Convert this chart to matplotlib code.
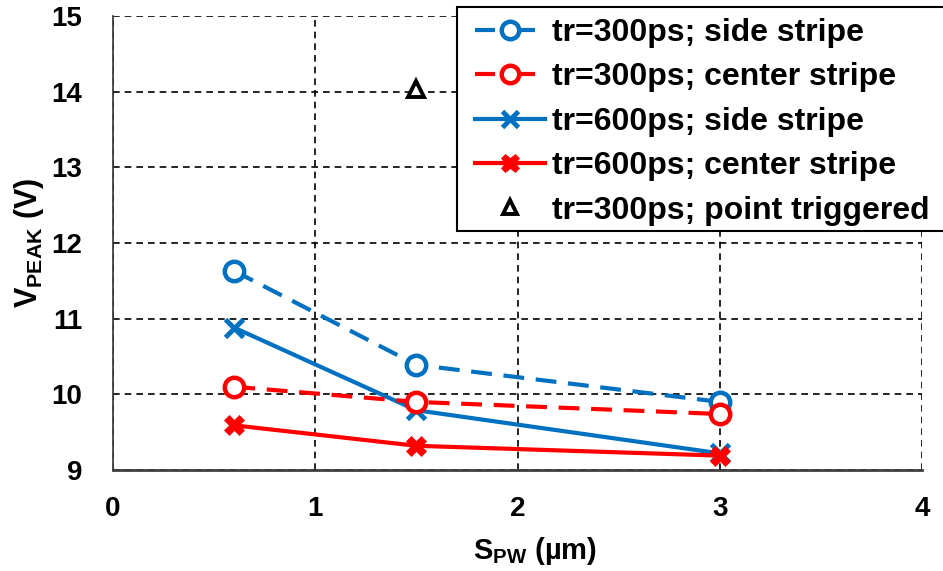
import matplotlib
matplotlib.use("Agg")
import matplotlib.pyplot as plt
from matplotlib.lines import Line2D
from matplotlib.patches import Rectangle

plt.rcParams["font.family"] = "Liberation Sans"
plt.rcParams["font.weight"] = "bold"
plt.rcParams["mathtext.fontset"] = "custom"
plt.rcParams["mathtext.rm"] = "Liberation Sans:bold"
plt.rcParams["mathtext.bf"] = "Liberation Sans:bold"

# ── Data ─────────────────────────────────────────────────────────────────────
s_pw = [0.6, 1.5, 3.0]

v_300_side = [11.63, 10.39, 9.90]
v_300_center = [10.10, 9.90, 9.74]
v_600_side = [10.88, 9.79, 9.22]
v_600_center = [9.59, 9.32, 9.19]

point_x = [1.5]
point_v = [14.03]

labels = ["tr=300ps; side stripe", "tr=300ps; center stripe",
          "tr=600ps; side stripe", "tr=600ps; center stripe",
          "tr=300ps; point triggered"]

BLUE = "#0070C0"
RED = "#FF0000"
TICK_FONT = 20
LABEL_FONT = 22
LEG_FONT = 23
LW = 3.0

W, H = 943, 571
fig = plt.figure(figsize=(W / 100, H / 100), dpi=100)
ax = fig.add_axes([113 / W, 1 - 470 / H, 809 / W, 454 / H])

dash = (0, (5.0, 2.8))
circ = dict(marker="o", ms=14, mfc="white", mew=3.2)
ax.plot(s_pw, v_300_side, color=BLUE, ls=dash, lw=LW, mec=BLUE, zorder=4, **circ)
ax.plot(s_pw, v_300_center, color=RED, ls=dash, lw=LW, mec=RED, zorder=5, **circ)
ax.plot(s_pw, v_600_side, color=BLUE, ls="-", lw=LW, marker="x", ms=13,
        mew=3.5, zorder=4)
ax.plot(s_pw, v_600_center, color=RED, ls="-", lw=LW, marker="X", ms=15,
        mew=0.5, mec=RED, zorder=5)
ax.plot(point_x, point_v, ls="none", marker="^", ms=11, mfc="white",
        mec="black", mew=2.8, zorder=5)

ax.set_xlim(0, 4)
ax.set_ylim(9, 15)
ax.set_xticks([0, 1, 2, 3, 4])
ax.set_yticks(range(9, 16))
ax.tick_params(axis="both", labelsize=TICK_FONT, length=0)
ax.tick_params(axis="x", pad=19)
ax.tick_params(axis="y", pad=22)

ax.grid(True, color="black", ls=(0, (4, 3)), lw=1.2)
ax.set_axisbelow(True)
for side in ["top", "right"]:
    ax.spines[side].set_visible(False)
ax.spines["left"].set_color("#333333")
ax.spines["left"].set_linewidth(1.2)
ax.spines["bottom"].set_color("#404040")
ax.spines["bottom"].set_linewidth(2.0)

ax.set_xlabel(r"$\mathbf{S_{PW}}$ (µm)", fontsize=LABEL_FONT - 1, fontweight="bold")
ax.xaxis.set_label_coords(0.522, -0.143)
ax.set_ylabel(r"$\mathbf{V_{PEAK}}$ (V)", fontsize=LABEL_FONT, fontweight="bold", labelpad=4)

# legend handles: dashed entries show a short dash on each side of the marker
leg_dash = (0, (4.8, 6.0, 3.6, 20))
handles = [
    Line2D([], [], color=BLUE, ls=leg_dash, lw=LW, mec=BLUE, **circ),
    Line2D([], [], color=RED, ls=leg_dash, lw=LW, mec=RED, **circ),
    Line2D([], [], color=BLUE, ls="-", lw=LW, marker="x", ms=13, mew=3.5),
    Line2D([], [], color=RED, ls="-", lw=LW, marker="X", ms=15, mew=0.5, mec=RED),
    Line2D([], [], ls="none", marker="^", ms=11, mfc="white", mec="black", mew=2.8),
]
leg = fig.legend(handles, labels, loc="upper left",
                 bbox_to_anchor=(475 / W, 1 - 18 / H),
                 fontsize=LEG_FONT, frameon=False, handlelength=2.2,
                 handletextpad=0.22, labelspacing=0.45, borderpad=0,
                 borderaxespad=0, markerscale=0.9)
for t in leg.get_texts():
    t.set_fontweight("bold")

box = Rectangle((457 / W, 1 - 231 / H), (W - 457 + 5) / W, 224 / H,
                transform=fig.transFigure, facecolor="white",
                edgecolor="black", lw=1.5, zorder=2)
fig.patches.append(box)
leg.set_zorder(3)

fig.savefig("out.png", dpi=100)
